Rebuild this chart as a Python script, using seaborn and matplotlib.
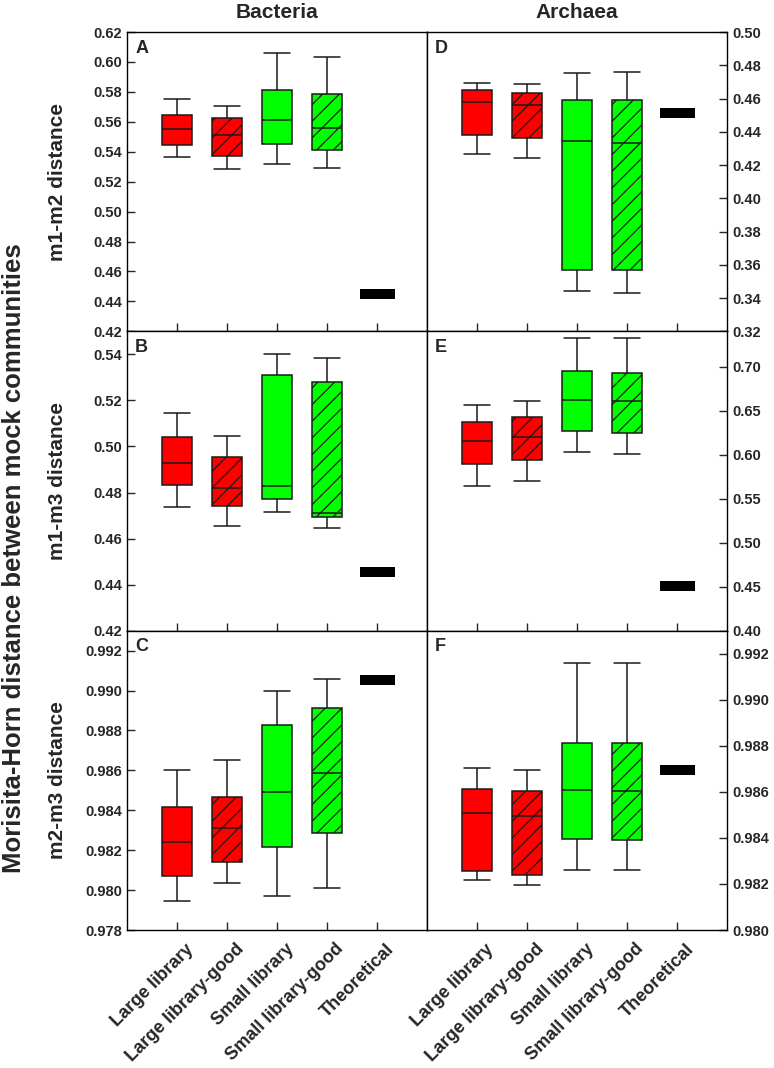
import numpy as np
import pandas as pd
import matplotlib
matplotlib.use('Agg')
import matplotlib.pyplot as plt
import matplotlib.transforms as mtransforms
import seaborn as sns

# library types on the x axis
categories = ['Large library', 'Large library-good', 'Small library',
              'Small library-good', 'Theoretical']
libraries = categories[:4]

# five-number summaries per library (min, q1, median, q3, max)
A_boxes = [[0.5367, 0.5444, 0.5551, 0.5644, 0.5753],
           [0.5287, 0.5371, 0.5511, 0.5627, 0.5707],
           [0.5318, 0.5451, 0.5611, 0.5811, 0.6062],
           [0.5291, 0.5413, 0.5560, 0.5789, 0.6031]]
A_theory = 0.4453

B_boxes = [[0.4737, 0.4831, 0.4927, 0.5041, 0.5147],
           [0.4656, 0.4743, 0.4820, 0.4953, 0.5045],
           [0.4716, 0.4772, 0.4828, 0.5309, 0.5400],
           [0.4647, 0.4695, 0.4710, 0.5280, 0.5386]]
B_theory = 0.4455

C_boxes = [[0.97945, 0.98071, 0.98243, 0.98415, 0.98600],
           [0.98034, 0.98139, 0.98310, 0.98468, 0.98654],
           [0.97970, 0.98218, 0.98493, 0.98829, 0.98998],
           [0.98012, 0.98288, 0.98587, 0.98914, 0.99058]]
C_theory = 0.99051

D_boxes = [[0.4268, 0.4380, 0.4578, 0.4652, 0.4696],
           [0.4242, 0.4360, 0.4564, 0.4636, 0.4688],
           [0.3442, 0.3572, 0.4344, 0.4592, 0.4756],
           [0.3428, 0.3572, 0.4332, 0.4592, 0.4762]]
D_theory = 0.4516

E_boxes = [[0.5648, 0.5890, 0.6159, 0.6375, 0.6564],
           [0.5705, 0.5939, 0.6205, 0.6424, 0.6614],
           [0.6034, 0.6265, 0.6617, 0.6947, 0.7330],
           [0.6011, 0.6246, 0.6610, 0.6932, 0.7322]]
E_theory = 0.4508

F_boxes = [[0.98217, 0.98255, 0.98509, 0.98613, 0.98704],
           [0.98197, 0.98239, 0.98496, 0.98604, 0.98697],
           [0.98262, 0.98394, 0.98606, 0.98814, 0.99159],
           [0.98261, 0.98391, 0.98604, 0.98812, 0.99158]]
F_theory = 0.98694

row_labels = ['m1-m2 distance', 'm1-m3 distance', 'm2-m3 distance']
col_titles = ['Bacteria', 'Archaea']

sns.set_theme(style='ticks')
plt.rcParams['font.family'] = ['Liberation Sans', 'DejaVu Sans']
plt.rcParams['font.weight'] = 'bold'
plt.rcParams['hatch.linewidth'] = 0.9

palette = {'Large library': '#ff0000', 'Large library-good': '#ff0000',
           'Small library': '#00ff00', 'Small library-good': '#00ff00'}

# panel letter, boxes, theoretical, ylim, ticks, tick format
panels = [
    ('A', A_boxes, A_theory, (0.42, 0.62), np.arange(0.42, 0.6201, 0.02), '{:.2f}'),
    ('D', D_boxes, D_theory, (0.32, 0.50), np.arange(0.32, 0.5001, 0.02), '{:.2f}'),
    ('B', B_boxes, B_theory, (0.42, 0.55), np.arange(0.42, 0.5401, 0.02), '{:.2f}'),
    ('E', E_boxes, E_theory, (0.40, 0.74), np.arange(0.40, 0.7001, 0.05), '{:.2f}'),
    ('C', C_boxes, C_theory, (0.978, 0.993), np.arange(0.978, 0.99201, 0.002), '{:.3f}'),
    ('F', F_boxes, F_theory, (0.980, 0.993), np.arange(0.980, 0.99201, 0.002), '{:.3f}'),
]

fig, axes = plt.subplots(3, 2, figsize=(7.74, 10.68), dpi=100)
fig.subplots_adjust(left=0.1641, right=0.9393, top=0.97, bottom=0.1292,
                    wspace=0, hspace=0)

for ax, (letter, boxes, theory, ylim, ticks, fmt) in zip(axes.flat, panels):
    df = pd.DataFrame({
        'library': np.repeat(libraries, 5),
        'value': np.concatenate(boxes),
    })
    sns.boxplot(data=df, x='library', y='value', order=categories,
                hue='library', palette=palette, legend=False, whis=(0, 100),
                width=0.6, saturation=1, linecolor='#1a1a1a', linewidth=1.1,
                capwidths=0.52, ax=ax)
    for patch in ax.patches:
        cx = patch.get_path().vertices[:, 0].mean()
        if categories[int(round(cx))].endswith('-good'):
            patch.set_hatch('//')
    # theoretical value as a thick black bar
    pos = categories.index('Theoretical')
    ax.hlines(theory, pos - 0.35, pos + 0.35, color='black', lw=7.2,
              capstyle='butt')

    ax.set_xlim(-1, 5)
    ax.set_ylim(*ylim)
    ax.set_yticks(ticks)
    ax.set_yticklabels([fmt.format(t) for t in ticks])
    ax.set_xlabel('')
    ax.set_ylabel('')
    ax.tick_params(direction='in', length=6, width=1, labelsize=10.5)
    for s in ax.spines.values():
        s.set_visible(True)
        s.set_linewidth(1)
        s.set_color('black')
    ax.text(0.027, 0.975, letter, transform=ax.transAxes, ha='left', va='top',
            fontsize=13, fontweight='bold')

shift = mtransforms.ScaledTranslation(6 / 72, -4 / 72, fig.dpi_scale_trans)
for i, ax in enumerate(axes.flat):
    row, col = divmod(i, 2)
    if col == 1:
        ax.yaxis.tick_right()
    else:
        ax.set_ylabel(row_labels[row], fontsize=15, fontweight='bold')
        ax.yaxis.set_label_coords(-0.2, 0.5)
    if row == 0:
        ax.set_title(col_titles[col], fontsize=15, fontweight='bold', pad=10)
    if row < 2:
        ax.set_xticklabels([])
    else:
        ax.set_xticks(range(len(categories)))
        ax.set_xticklabels(categories, rotation=45, ha='right',
                           rotation_mode='anchor', fontsize=13,
                           fontweight='bold')
        for lab in ax.get_xticklabels():
            lab.set_transform(lab.get_transform() + shift)

fig.text(0.018, 0.4775, 'Morisita-Horn distance between mock communities',
         rotation=90, ha='center', va='center', fontsize=18.5,
         fontweight='bold')

fig.savefig('out.png', dpi=100)
